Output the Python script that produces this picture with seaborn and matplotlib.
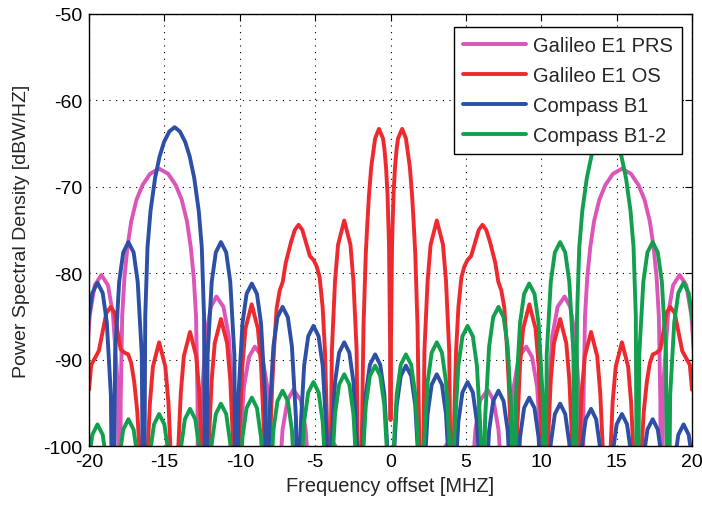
#!/usr/bin/env python3
"""Power spectral density of Galileo E1 and Compass B1 signals."""

import matplotlib

matplotlib.use("Agg")
import matplotlib.pyplot as plt
import pandas as pd
import seaborn as sns

SIGNALS = ["Galileo E1 PRS", "Galileo E1 OS", "Compass B1", "Compass B1-2"]
COLORS = ["#dc55b8", "#ee2a2f", "#2d4fa5", "#12a04e"]

# Galileo E1 PRS (lobe by lobe)
prs_mhz = [
    -20.46, -20.28, -19.95, -19.62, -19.18, -18.74, -18.41, -18.08,
    -17.95, -17.9, -17.8, -17.65, -17.45, -17.2, -16.85, -16.45, -15.95, -15.35,
    -14.75, -14.25, -13.85, -13.5, -13.25, -13.05, -12.9, -12.8,
    -12.75, -12.57, -12.25, -11.92, -11.55, -11.08, -10.73, -10.41,
    -10.23, -10.05, -9.72, -9.39, -9.0, -8.51, -8.18, -7.85,
    -7.67, -7.49, -7.16, -6.83, -6.45, -5.95, -5.63, -5.3,
    -5.12, -4.61, -4.28, -3.84, -3.4, -3.07,
    -2.56, 2.56,
    3.07, 3.4, 3.84, 4.28, 4.61, 5.12,
    5.3, 5.63, 5.95, 6.45, 6.83, 7.16, 7.49, 7.67,
    7.85, 8.18, 8.51, 9.0, 9.39, 9.72, 10.05, 10.23,
    10.41, 10.73, 11.08, 11.55, 11.92, 12.25, 12.57, 12.75,
    12.8, 12.9, 13.05, 13.25, 13.5, 13.85, 14.25, 14.75, 15.35,
    15.95, 16.45, 16.85, 17.2, 17.45, 17.65, 17.8, 17.9, 17.95,
    18.08, 18.41, 18.74, 19.18, 19.62, 19.95, 20.28, 20.46,
]
prs_db = [
    -120, -93.2, -84.8, -81.4, -80.2, -81.4, -84.8, -93.2,
    -120, -95, -85, -80.5, -77, -74, -71.5, -69.8, -68.5, -67.9,
    -68.5, -69.8, -71.5, -74, -77, -80.5, -85, -95,
    -120, -95.7, -87.3, -83.9, -82.7, -83.9, -87.3, -95.7,
    -120, -101.5, -93.1, -89.7, -88.5, -89.7, -93.1, -101.5,
    -120, -106.5, -98.1, -94.7, -93.5, -94.7, -98.1, -106.5,
    -120, -104.1, -100.7, -99.5, -100.7, -104.1,
    -120, -120,
    -104.1, -100.7, -99.5, -100.7, -104.1, -120,
    -106.5, -98.1, -94.7, -93.5, -94.7, -98.1, -106.5, -120,
    -101.5, -93.1, -89.7, -88.5, -89.7, -93.1, -101.5, -120,
    -95.7, -87.3, -83.9, -82.7, -83.9, -87.3, -95.7, -120,
    -95, -85, -80.5, -77, -74, -71.5, -69.8, -68.5, -67.9,
    -68.5, -69.8, -71.5, -74, -77, -80.5, -85, -95, -120,
    -93.2, -84.8, -81.4, -80.2, -81.4, -84.8, -93.2, -120,
]

# Galileo E1 OS
os_mhz = [
    -20.0, -19.85, -19.6, -19.35, -19.1, -18.85, -18.55, -18.3, -18.1, -17.9,
    -17.65, -17.4, -17.2, -17.0, -16.8, -16.6, -16.37,
    -16.17, -15.96, -15.76, -15.35, -14.94, -14.73, -14.53, -14.32,
    -14.12, -13.91, -13.71, -13.3, -12.89, -12.68, -12.48, -12.27,
    -12.07, -11.86, -11.66, -11.25, -10.84, -10.63, -10.43, -10.23,
    -10.03, -9.82, -9.62, -9.21, -8.8, -8.59, -8.39, -8.18,
    -8.0, -7.85, -7.7, -7.55, -7.35, -7.15, -6.95, -6.6, -6.35, -6.1,
    -5.85, -5.6, -5.35, -5.1, -4.9, -4.7, -4.5, -4.35, -4.22, -4.09,
    -3.89, -3.68, -3.48, -3.07, -2.66, -2.46, -2.25, -2.05,
    -1.94, -1.79, -1.64, -1.53, -1.43, -1.28, -1.02, -0.77, -0.5, -0.4,
    -0.3, -0.2, -0.1, -0.03, 0.0,
    0.03, 0.1, 0.2, 0.3, 0.4, 0.5, 0.77, 1.02, 1.28, 1.43,
    1.53, 1.64, 1.79, 1.94, 2.05,
    2.25, 2.46, 2.66, 3.07, 3.48, 3.68, 3.89, 4.09,
    4.22, 4.35, 4.5, 4.7, 4.9, 5.1, 5.35, 5.6, 5.85, 6.1,
    6.35, 6.6, 6.95, 7.15, 7.35, 7.55, 7.7, 7.85, 8.0, 8.18,
    8.39, 8.59, 8.8, 9.21, 9.62, 9.82, 10.03, 10.23,
    10.43, 10.63, 10.84, 11.25, 11.66, 11.86, 12.07, 12.27,
    12.48, 12.68, 12.89, 13.3, 13.71, 13.91, 14.12, 14.32,
    14.53, 14.73, 14.94, 15.35, 15.76, 15.96, 16.17, 16.37,
    16.6, 16.8, 17.0, 17.2, 17.4, 17.65, 17.9, 18.1, 18.3, 18.55,
    18.85, 19.1, 19.35, 19.6, 19.85, 20.0,
]
os_db = [
    -93.5, -90.6, -89.8, -89.0, -86.8, -84.6, -83.9, -84.6, -86.8, -88.8,
    -89.2, -89.4, -90.4, -92.6, -96.0, -102, -120,
    -103, -95.0, -90.8, -88.0, -90.8, -95.0, -103, -120,
    -101.8, -93.8, -89.6, -86.8, -89.6, -93.8, -101.8, -120,
    -100.3, -92.3, -88.1, -85.3, -88.1, -92.3, -100.3, -120,
    -98.6, -90.6, -86.4, -83.6, -86.4, -90.6, -98.6, -120,
    -100, -93, -88, -84, -82.0, -81.0, -78.8, -76.4, -75.0, -74.4,
    -75.0, -76.5, -78.0, -78.5, -79.2, -80.5, -84, -89, -97, -120,
    -88.9, -80.9, -76.7, -73.9, -76.7, -80.9, -88.9, -120,
    -103, -86, -77.7, -74.0, -71.0, -67.7, -64.4, -63.3, -64.4, -65.7,
    -67.7, -70.8, -76.7, -88, -97,
    -88, -76.7, -70.8, -67.7, -65.7, -64.4, -63.3, -64.4, -67.7, -71.0,
    -74.0, -77.7, -86, -103, -120,
    -88.9, -80.9, -76.7, -73.9, -76.7, -80.9, -88.9, -120,
    -97, -89, -84, -80.5, -79.2, -78.5, -78.0, -76.5, -75.0, -74.4,
    -75.0, -76.4, -78.8, -81.0, -82.0, -84, -88, -93, -100, -120,
    -98.6, -90.6, -86.4, -83.6, -86.4, -90.6, -98.6, -120,
    -100.3, -92.3, -88.1, -85.3, -88.1, -92.3, -100.3, -120,
    -101.8, -93.8, -89.6, -86.8, -89.6, -93.8, -101.8, -120,
    -103, -95.0, -90.8, -88.0, -90.8, -95.0, -103, -120,
    -102, -96.0, -92.6, -90.4, -89.4, -89.2, -88.8, -86.8, -84.6, -83.9,
    -84.6, -86.8, -89.0, -89.8, -90.6, -93.5,
]

# Compass B1
b1_mhz = [
    -20.46, -20.32, -20.05, -19.78, -19.44, -19.09, -18.82, -18.55,
    -18.41, -18.27, -18.0, -17.73, -17.39, -17.04, -16.77, -16.5,
    -16.37, -16.27, -16.12, -15.92, -15.62, -15.32, -15.02, -14.67, -14.32,
    -13.97, -13.62, -13.32, -13.02, -12.72, -12.52, -12.37,
    -12.27, -12.13, -11.86, -11.59, -11.25, -10.9, -10.63, -10.36,
    -10.23, -10.09, -9.82, -9.55, -9.2, -8.86, -8.59, -8.32,
    -8.18, -8.04, -7.77, -7.5, -7.16, -6.81, -6.54, -6.27,
    -6.14, -6.0, -5.73, -5.46, -5.11, -4.77, -4.5, -4.23,
    -4.09, -3.95, -3.68, -3.41, -3.07, -2.73, -2.46, -2.19,
    -2.05, -1.91, -1.64, -1.37, -1.02, -0.68, -0.41, -0.14,
    0.0, 0.14, 0.41, 0.68, 1.02, 1.37, 1.64, 1.91,
    2.05, 2.19, 2.46, 2.73, 3.07, 3.41, 3.68, 3.95,
    4.09, 4.23, 4.5, 4.77, 5.11, 5.46, 5.73, 6.0,
    6.14, 6.27, 6.54, 6.81, 7.16, 7.5, 7.77, 8.04,
    8.18, 8.32, 8.59, 8.86, 9.2, 9.55, 9.82, 10.09,
    10.23, 10.36, 10.63, 10.9, 11.25, 11.59, 11.86, 12.13,
    12.27, 12.41, 12.68, 12.95, 13.3, 13.64, 13.91, 14.18,
    14.32, 14.46, 14.73, 15.0, 15.35, 15.69, 15.96, 16.23,
    16.37, 16.5, 16.77, 17.04, 17.39, 17.73, 18.0, 18.27,
    18.41, 18.55, 18.82, 19.09, 19.44, 19.78, 20.05, 20.32, 20.46,
]
b1_db = [
    -120, -94.1, -85.7, -82.3, -81.1, -82.3, -85.7, -94.1,
    -120, -89.4, -81.0, -77.6, -76.4, -77.6, -81.0, -89.4,
    -120, -85, -77, -72.8, -69, -66.5, -64.8, -63.6, -63.1,
    -63.6, -64.8, -66.5, -69, -72.8, -77, -85,
    -120, -89.4, -81.0, -77.6, -76.4, -77.6, -81.0, -89.4,
    -120, -94.2, -85.8, -82.4, -81.2, -82.4, -85.8, -94.2,
    -120, -96.9, -88.5, -85.1, -83.9, -85.1, -88.5, -96.9,
    -120, -99.1, -90.7, -87.3, -86.1, -87.3, -90.7, -99.1,
    -120, -101, -92.6, -89.2, -88.0, -89.2, -92.6, -101,
    -120, -102.4, -94.0, -90.6, -89.4, -90.6, -94.0, -102.4,
    -120, -103.7, -95.3, -91.9, -90.7, -91.9, -95.3, -103.7,
    -120, -104.7, -96.3, -92.9, -91.7, -92.9, -96.3, -104.7,
    -120, -105.6, -97.2, -93.8, -92.6, -93.8, -97.2, -105.6,
    -120, -106.6, -98.2, -94.8, -93.6, -94.8, -98.2, -106.6,
    -120, -107.4, -99.0, -95.6, -94.4, -95.6, -99.0, -107.4,
    -120, -108.1, -99.7, -96.3, -95.1, -96.3, -99.7, -108.1,
    -120, -108.7, -100.3, -96.9, -95.7, -96.9, -100.3, -108.7,
    -120, -109.3, -100.9, -97.5, -96.3, -97.5, -100.9, -109.3,
    -120, -109.9, -101.5, -98.1, -96.9, -98.1, -101.5, -109.9,
    -120, -110.5, -102.1, -98.7, -97.5, -98.7, -102.1, -110.5, -120,
]

# Compass B1-2
b12_mhz = [
    -20.46, -20.32, -20.05, -19.78, -19.44, -19.09, -18.82, -18.55,
    -18.41, -18.27, -18.0, -17.73, -17.39, -17.04, -16.77, -16.5,
    -16.37, -16.23, -15.96, -15.69, -15.35, -15.0, -14.73, -14.46,
    -14.32, -14.18, -13.91, -13.64, -13.3, -12.95, -12.68, -12.41,
    -12.27, -12.13, -11.86, -11.59, -11.25, -10.9, -10.63, -10.36,
    -10.23, -10.09, -9.82, -9.55, -9.2, -8.86, -8.59, -8.32,
    -8.18, -8.04, -7.77, -7.5, -7.16, -6.81, -6.54, -6.27,
    -6.14, -6.0, -5.73, -5.46, -5.11, -4.77, -4.5, -4.23,
    -4.09, -3.95, -3.68, -3.41, -3.07, -2.73, -2.46, -2.19,
    -2.05, -1.91, -1.64, -1.37, -1.02, -0.68, -0.41, -0.14,
    0.0, 0.14, 0.41, 0.68, 1.02, 1.37, 1.64, 1.91,
    2.05, 2.19, 2.46, 2.73, 3.07, 3.41, 3.68, 3.95,
    4.09, 4.23, 4.5, 4.77, 5.11, 5.46, 5.73, 6.0,
    6.14, 6.27, 6.54, 6.81, 7.16, 7.5, 7.77, 8.04,
    8.18, 8.32, 8.59, 8.86, 9.2, 9.55, 9.82, 10.09,
    10.23, 10.36, 10.63, 10.9, 11.25, 11.59, 11.86, 12.13,
    12.27, 12.37, 12.52, 12.72, 13.02, 13.32, 13.62, 13.97, 14.32,
    14.67, 15.02, 15.32, 15.62, 15.92, 16.12, 16.27,
    16.37, 16.5, 16.77, 17.04, 17.39, 17.73, 18.0, 18.27,
    18.41, 18.55, 18.82, 19.09, 19.44, 19.78, 20.05, 20.32, 20.46,
]
b12_db = [
    -120, -110.5, -102.1, -98.7, -97.5, -98.7, -102.1, -110.5,
    -120, -109.9, -101.5, -98.1, -96.9, -98.1, -101.5, -109.9,
    -120, -109.3, -100.9, -97.5, -96.3, -97.5, -100.9, -109.3,
    -120, -108.7, -100.3, -96.9, -95.7, -96.9, -100.3, -108.7,
    -120, -108.1, -99.7, -96.3, -95.1, -96.3, -99.7, -108.1,
    -120, -107.4, -99.0, -95.6, -94.4, -95.6, -99.0, -107.4,
    -120, -106.6, -98.2, -94.8, -93.6, -94.8, -98.2, -106.6,
    -120, -105.6, -97.2, -93.8, -92.6, -93.8, -97.2, -105.6,
    -120, -104.7, -96.3, -92.9, -91.7, -92.9, -96.3, -104.7,
    -120, -103.7, -95.3, -91.9, -90.7, -91.9, -95.3, -103.7,
    -120, -102.4, -94.0, -90.6, -89.4, -90.6, -94.0, -102.4,
    -120, -101, -92.6, -89.2, -88.0, -89.2, -92.6, -101,
    -120, -99.1, -90.7, -87.3, -86.1, -87.3, -90.7, -99.1,
    -120, -96.9, -88.5, -85.1, -83.9, -85.1, -88.5, -96.9,
    -120, -94.2, -85.8, -82.4, -81.2, -82.4, -85.8, -94.2,
    -120, -89.4, -81.0, -77.6, -76.4, -77.6, -81.0, -89.4,
    -120, -85, -77, -72.8, -69, -66.5, -64.8, -63.6, -63.1,
    -63.6, -64.8, -66.5, -69, -72.8, -77, -85,
    -120, -89.4, -81.0, -77.6, -76.4, -77.6, -81.0, -89.4,
    -120, -94.1, -85.7, -82.3, -81.1, -82.3, -85.7, -94.1, -120,
]

X_TICKS = [-20, -15, -10, -5, 0, 5, 10, 15, 20]
Y_TICKS = [-100, -90, -80, -70, -60, -50]


def build_frame() -> pd.DataFrame:
    series = [(prs_mhz, prs_db), (os_mhz, os_db), (b1_mhz, b1_db), (b12_mhz, b12_db)]
    frames = []
    for name, (xs, ys) in zip(SIGNALS, series):
        frames.append(pd.DataFrame({"mhz": xs, "db": ys, "signal": name}))
    return pd.concat(frames, ignore_index=True)


def main() -> None:
    sns.set_theme(style="white")
    plt.rcParams["font.family"] = ["Liberation Sans", "DejaVu Sans"]
    plt.rcParams["axes.unicode_minus"] = False

    df = build_frame()
    fig = plt.figure(figsize=(7.02, 5.06), dpi=100)
    ax = fig.add_axes([0.1268, 0.1166, 0.859, 0.8538])

    sns.lineplot(
        data=df,
        x="mhz",
        y="db",
        hue="signal",
        hue_order=SIGNALS,
        palette=COLORS,
        sort=False,
        estimator=None,
        linewidth=2.8,
        ax=ax,
    )

    ax.set_xlim(-20, 20)
    ax.set_ylim(-100, -50)
    ax.set_xticks(X_TICKS)
    ax.set_yticks(Y_TICKS)
    ax.set_axisbelow(True)
    ax.grid(True, color="black", linestyle=(0, (1, 5)), linewidth=0.8)
    ax.tick_params(direction="in", length=5, width=0.8, top=True, right=True,
                   labelsize=14, colors="black", pad=5)
    for spine in ax.spines.values():
        spine.set_color("black")
        spine.set_linewidth(1.0)

    ax.set_xlabel("Frequency offset [MHZ]", fontsize=14.4, labelpad=4)
    ax.set_ylabel("Power Spectral Density [dBW/HZ]", fontsize=14, labelpad=9)

    handles, labels = ax.get_legend_handles_labels()
    leg = ax.legend(
        handles,
        labels,
        loc="upper right",
        bbox_to_anchor=(0.983, 0.97),
        borderaxespad=0,
        fancybox=False,
        framealpha=1,
        edgecolor="black",
        fontsize=14.5,
        handlelength=3.1,
        handletextpad=0.35,
        labelspacing=0.55,
        borderpad=0.45,
    )
    leg.get_frame().set_linewidth(1.0)
    for line in leg.get_lines():
        line.set_linewidth(2.8)

    fig.savefig("out.png", dpi=100)
    plt.close(fig)


if __name__ == "__main__":
    main()
